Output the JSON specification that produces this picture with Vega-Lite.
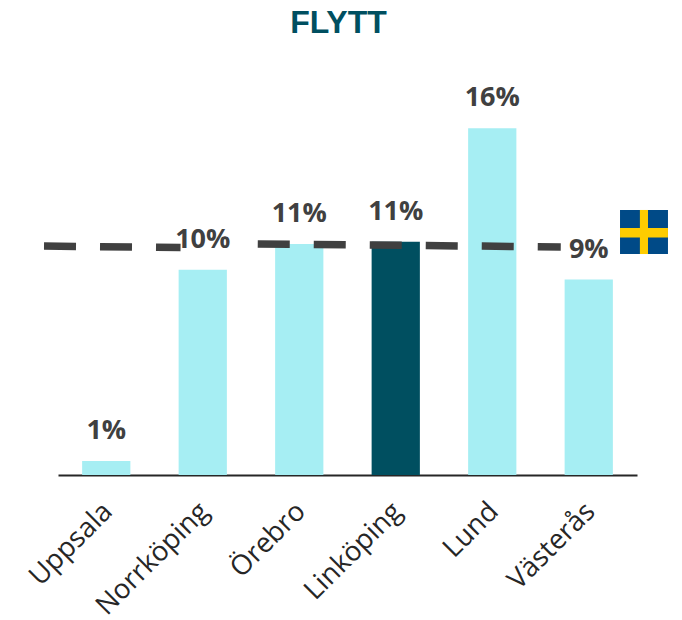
{"$schema":"https://vega.github.io/schema/vega-lite/v6.json","width":579,"height":395,"autosize":"none","padding":{"left":58,"top":80,"right":45,"bottom":145},"background":"white","view":{"stroke":null},"title":{"text":"FLYTT","font":"Liberation Sans","fontSize":32,"fontWeight":"bold","color":"#004F60","anchor":"middle","dx":-9,"offset":40},
"datasets":{"bars":[{"stad":"Uppsala","v":0.65,"t":"1%"},{"stad":"Norrköping","v":9.5,"t":"10%"},{"stad":"Örebro","v":10.7,"t":"11%"},{"stad":"Linköping","v":10.8,"t":"11%"},{"stad":"Lund","v":16.05,"t":"16%"},{"stad":"Västerås","v":9.05,"t":"9%"}],
"line":[{"p":-0.145,"v":10.6,"s":"a"},{"p":1.27,"v":10.53,"s":"a"},{"p":2.07,"v":10.7,"s":"b"},{"p":5.21,"v":10.56,"s":"b"}],
"flagbg":[{"x0":5.824,"x1":6.321,"y0":10.23,"y1":12.27}],
"flagcross":[{"x0":5.824,"x1":6.321,"y0":11.0,"y1":11.44},{"x0":6.03,"x1":6.114,"y0":10.23,"y1":12.27}]},
"resolve":{"scale":{"x":"independent"}},
"layer":[
{"data":{"name":"bars"},"mark":{"type":"bar"},"encoding":{"x":{"field":"stad","type":"nominal","sort":null,"scale":{"paddingInner":0.5,"paddingOuter":0.25},"axis":{"title":null,"labelAngle":-45,"labelAlign":"right","labelBaseline":"middle","labelFont":"Open Sans","labelFontSize":27.5,"labelColor":"#262626","labelPadding":32,"labelOffset":2,"labelLimit":300,"ticks":false,"domainColor":"#262626","domainWidth":2}},"y":{"field":"v","type":"quantitative","scale":{"domain":[0,18.287],"nice":false},"axis":null},"color":{"condition":{"test":"datum.stad==='Linköping'","value":"#004F60"},"value":"#A6EEF3"}}},
{"data":{"name":"line"},"mark":{"type":"line","color":"#404040","strokeWidth":7.5,"strokeDash":[32,24],"clip":false},"encoding":{"x":{"field":"p","type":"quantitative","scale":{"domain":[0,6],"nice":false,"zero":false},"axis":null},"y":{"field":"v","type":"quantitative"},"detail":{"field":"s"}}},
{"data":{"name":"bars"},"mark":{"type":"text","font":"Open Sans","fontSize":27,"fontWeight":"bold","color":"#404040","baseline":"bottom","dy":-16},"encoding":{"x":{"field":"stad","type":"nominal","sort":null,"scale":{"paddingInner":0.5,"paddingOuter":0.25},"axis":null},"y":{"field":"v","type":"quantitative"},"text":{"field":"t"}}},
{"data":{"name":"flagbg"},"mark":{"type":"rect","color":"#004A87"},"encoding":{"x":{"field":"x0","type":"quantitative","scale":{"domain":[0,6],"nice":false,"zero":false},"axis":null},"x2":{"field":"x1"},"y":{"field":"y0","type":"quantitative"},"y2":{"field":"y1"}}},
{"data":{"name":"flagcross"},"mark":{"type":"rect","color":"#FECC00"},"encoding":{"x":{"field":"x0","type":"quantitative","scale":{"domain":[0,6],"nice":false,"zero":false},"axis":null},"x2":{"field":"x1"},"y":{"field":"y0","type":"quantitative"},"y2":{"field":"y1"}}}
]}
